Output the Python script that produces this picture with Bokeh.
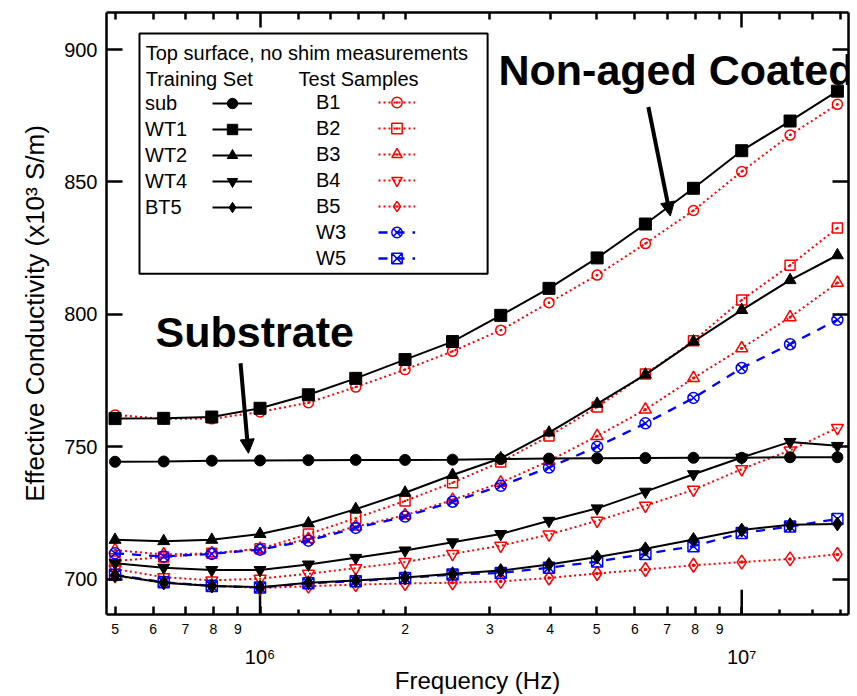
from bokeh.plotting import figure
from bokeh.models import (LogAxis, LinearAxis, FixedTicker, CustomJSTickFormatter, Legend,
                          LegendItem, Label, Arrow, NormalHead, BoxAnnotation, Range1d, Title)
from bokeh.embed import file_html
from bokeh.resources import INLINE

# ---------------- data ----------------
freq_hz = [5.0e5, 6.31e5, 7.94e5, 1.0e6, 1.26e6, 1.58e6, 2.0e6, 2.51e6,
           3.16e6, 3.98e6, 5.01e6, 6.31e6, 7.94e6, 1.0e7, 1.26e7, 1.58e7]

sub = [744.3, 744.4, 744.7, 744.8, 744.9, 745.0, 745.0, 745.1,
       745.3, 745.5, 745.6, 745.7, 745.8, 745.8, 746.0, 746.0]
wt1 = [760.6, 760.7, 761.2, 764.5, 769.6, 775.8, 782.9, 789.7,
       799.6, 809.8, 821.3, 834.1, 847.6, 861.8, 873.0, 884.3]
wt2 = [714.8, 714.3, 714.8, 717.0, 721.0, 726.4, 732.6, 739.3,
       745.6, 755.3, 766.2, 777.2, 789.7, 801.6, 812.9, 822.3]
wt4 = [706.0, 704.3, 703.4, 703.4, 705.5, 708.0, 710.8, 713.9,
       717.0, 722.0, 726.7, 733.0, 739.6, 745.9, 751.8, 750.3]
bt5 = [701.4, 698.6, 697.4, 696.9, 698.6, 699.4, 700.6, 702.0,
       703.2, 705.5, 708.3, 711.4, 714.9, 718.5, 720.5, 720.8]
b1 = [762.0, 760.5, 760.5, 763.1, 766.6, 772.5, 779.1, 786.0,
      794.0, 804.4, 814.8, 826.7, 839.2, 853.9, 867.7, 879.3]
b2 = [706.8, 708.3, 709.7, 711.4, 717.0, 723.0, 729.5, 736.4,
      744.2, 754.0, 765.0, 777.4, 790.0, 805.4, 818.5, 832.6]
b3 = [710.9, 709.3, 709.7, 711.4, 715.1, 719.8, 724.1, 729.9,
      736.4, 744.6, 754.0, 764.0, 775.9, 787.2, 798.9, 811.9]
b4 = [703.8, 700.7, 699.5, 700.1, 702.0, 704.1, 706.4, 709.5,
      712.6, 716.8, 722.0, 727.7, 733.7, 741.5, 748.6, 757.1]
b5 = [701.2, 698.7, 697.5, 696.6, 697.3, 697.9, 698.3, 698.6,
      699.1, 700.4, 702.1, 703.6, 705.2, 706.4, 707.6, 709.3]
w3 = [709.7, 708.5, 709.5, 711.1, 714.5, 719.3, 723.6, 729.2,
      735.2, 742.1, 750.0, 758.8, 768.4, 779.7, 788.7, 797.9]
w5 = [701.6, 698.8, 697.4, 696.8, 698.4, 699.2, 700.4, 701.7,
      702.3, 704.3, 706.6, 709.5, 712.4, 717.4, 719.8, 722.7]

training_names = ["sub", "WT1", "WT2", "WT4", "BT5"]
test_names = ["B1", "B2", "B3", "B4", "B5", "W3", "W5"]

x_ticks_labeled = [5e5, 6e5, 7e5, 8e5, 9e5, 2e6, 3e6, 4e6, 5e6, 6e6, 7e6, 8e6, 9e6]
x_ticks_decade = [1e6, 1e7]
x_ticks_minor = [1.2e6, 1.4e6, 1.6e6, 1.8e6, 1.2e7, 1.4e7, 1.6e7]
y_ticks = [700, 750, 800, 850, 900]

X_RANGE = (4.80e5, 1.666e7)
Y_RANGE = (686.6, 914.0)

FONT = "Liberation Sans"

# ---------------- figure ----------------
p = figure(width=857, height=696, x_axis_type="log",
           x_range=Range1d(*X_RANGE), y_range=Range1d(*Y_RANGE),
           output_backend="svg", toolbar_location=None,
           min_border_left=106, min_border_right=9,
           min_border_top=12, min_border_bottom=78)
p.grid.visible = False
p.outline_line_color = None
p.background_fill_color = "white"
p.border_fill_color = "white"

AX_W = 2.5


def style_axis(ax):
    ax.axis_line_width = AX_W
    ax.axis_line_color = "black"
    ax.major_tick_line_width = AX_W
    ax.minor_tick_line_width = AX_W
    ax.major_tick_line_color = "black"
    ax.minor_tick_line_color = "black"
    ax.major_tick_out = 0
    ax.minor_tick_out = 0
    ax.major_label_text_font = FONT
    ax.axis_label_text_font = FONT
    ax.axis_label_text_font_style = "normal"
    ax.axis_label_text_color = "black"
    ax.major_label_text_color = "black"


# bottom axis: mantissa labels
xa = p.xaxis[0]
style_axis(xa)
xa.ticker = FixedTicker(ticks=x_ticks_labeled + x_ticks_decade, minor_ticks=x_ticks_minor)
xa.formatter = CustomJSTickFormatter(code="""
const e = Math.floor(Math.log10(tick) + 1e-9);
const m = Math.round(tick / Math.pow(10, e));
return m === 1 ? "" : String(m);
""")
xa.major_tick_in = 8
xa.minor_tick_in = 5
xa.major_label_text_font_size = "14px"
xa.major_label_standoff = 9

# second bottom row: decade labels + axis title
xb = LogAxis(ticker=FixedTicker(ticks=x_ticks_decade, minor_ticks=[]))
style_axis(xb)
xb.axis_line_color = None
xb.major_tick_line_color = None
xb.minor_tick_line_color = None
xb.major_tick_in = 0
xb.formatter = CustomJSTickFormatter(code="""
const e = Math.round(Math.log10(tick));
const sup = "\u2070\u00b9\u00b2\u00b3\u2074\u2075\u2076\u2077\u2078\u2079";
return "10" + String(e).split("").map(d => sup[+d]).join("");
""")
xb.major_label_text_font_size = "20px"
xb.major_label_standoff = 9
xb.axis_label = "Frequency (Hz)"
xb.axis_label_text_font_size = "24px"
xb.axis_label_standoff = -4
p.add_layout(xb, "below")

# top axis: ticks only
xt = LogAxis(ticker=FixedTicker(ticks=x_ticks_decade,
                                minor_ticks=x_ticks_labeled + x_ticks_minor),
             formatter=CustomJSTickFormatter(code='return "";'))
style_axis(xt)
xt.major_tick_in = 15
xt.minor_tick_in = 7
xt.major_label_text_font_size = "2px"
xt.major_label_standoff = 0
p.add_layout(xt, "above")

# left axis
ya = p.yaxis[0]
style_axis(ya)
ya.ticker = FixedTicker(ticks=y_ticks, minor_ticks=[])
ya.major_tick_in = 16
ya.major_label_text_font_size = "20px"
ya.major_label_standoff = 9

# y title: a side title so that it can sit a little above the centre, as in the reference
ytitle = Title(text="Effective Conductivity (x10\u00b3 S/m)", align="center", offset=24,
               text_font=FONT, text_font_size="26px", text_font_style="normal",
               text_color="black", standoff=24)
p.add_layout(ytitle, "left")

# right axis: ticks only
yr = LinearAxis(ticker=FixedTicker(ticks=y_ticks, minor_ticks=[]),
                formatter=CustomJSTickFormatter(code='return "";'))
style_axis(yr)
yr.major_tick_in = 16
yr.major_label_text_font_size = "2px"
yr.major_label_standoff = 0
p.add_layout(yr, "right")

# longer decade ticks on the bottom axis
long_tick = (Y_RANGE[1] - Y_RANGE[0]) * 25.0 / 606.0
p.segment(x0=x_ticks_decade, y0=[Y_RANGE[0]] * len(x_ticks_decade),
          x1=x_ticks_decade, y1=[Y_RANGE[0] + long_tick] * len(x_ticks_decade),
          line_color="black", line_width=AX_W)

# ---------------- series ----------------
RED = "#ff0000"
BLUE = "#0000ff"
styles = {
    "sub": dict(color="black", dash="solid", lw=2, marker="circle", size=11, fill="black"),
    "WT1": dict(color="black", dash="solid", lw=2, marker="square", size=12, fill="black"),
    "WT2": dict(color="black", dash="solid", lw=2, marker="triangle", size=12, fill="black"),
    "WT4": dict(color="black", dash="solid", lw=2, marker="inverted_triangle", size=12, fill="black"),
    "BT5": dict(color="black", dash="solid", lw=2, marker="diamond", size=14, fill="black"),
    "B1": dict(color=RED, dash="2 3", lw=2, marker="circle_dot", size=10, fill=None),
    "B2": dict(color=RED, dash="2 3", lw=2, marker="square_dot", size=10, fill=None),
    "B3": dict(color=RED, dash="2 3", lw=2, marker="triangle_dot", size=12, fill=None),
    "B4": dict(color=RED, dash="2 3", lw=2, marker="inverted_triangle", size=12, fill=None),
    "B5": dict(color=RED, dash="2 3", lw=2, marker="diamond_dot", size=14, fill=None),
    "W3": dict(color=BLUE, dash="9 8", lw=2.3, marker="circle_x", size=11, fill=None),
    "W5": dict(color=BLUE, dash="9 8", lw=2.3, marker="square_x", size=11, fill=None),
}
values = {"sub": sub, "WT1": wt1, "WT2": wt2, "WT4": wt4, "BT5": bt5,
          "B1": b1, "B2": b2, "B3": b3, "B4": b4, "B5": b5, "W3": w3, "W5": w5}

draw_order = ["B5", "B4", "B3", "B2", "B1", "W3", "W5", "sub", "WT1", "WT2", "WT4", "BT5"]
rends = {}
for name in draw_order:
    st = styles[name]
    vals = values[name]
    rl = p.line(freq_hz, vals, line_color=st["color"], line_width=st["lw"],
                line_dash=st["dash"])
    rs = p.scatter(freq_hz, vals, marker=st["marker"], size=st["size"],
                   line_color=st["color"], fill_color=st["fill"],
                   line_width=1.5 if st["fill"] is None else 1)
    rends[name] = [rl, rs]

# ---------------- legend box ----------------
p.add_layout(BoxAnnotation(left=5.62e5, right=2.968e6, top=906.1, bottom=815.3,
                           fill_color="white", fill_alpha=1.0,
                           line_color="black", line_width=2, line_alpha=1.0))
for txt, xx, yy in [("Top surface, no shim measurements", 5.79e5, 902.8),
                    ("Training Set", 5.79e5, 893.0),
                    ("Test Samples", 1.202e6, 893.0)]:
    p.add_layout(Label(x=xx, y=yy, text=txt, text_font=FONT, text_font_size="20px",
                       text_baseline="top", text_color="black"))

common = dict(orientation="vertical", glyph_height=26, label_height=26, spacing=0,
              padding=0, margin=0, border_line_color=None, background_fill_alpha=0,
              label_text_font=FONT, label_text_font_size="20px",
              label_text_color="black", label_standoff=0)


def add_column(names, label_x, glyph_x, glyph_w, vy):
    # labels on the left (no glyph drawn), glyph samples on the right
    p.add_layout(Legend(items=[LegendItem(label=n, renderers=rends[n]) for n in names],
                        location=(label_x, vy), glyph_width=0, **common), "center")
    p.add_layout(Legend(items=[LegendItem(label=" ", renderers=rends[n]) for n in names],
                        location=(glyph_x, vy), glyph_width=glyph_w, **common), "center")


add_column(training_names, 39, 106, 40, 394)
add_column(test_names, 210, 272, 37, 343)

# ---------------- annotations ----------------
p.add_layout(Label(x=3.127e6, y=901.2, text="Non-aged Coated", text_font=FONT,
                   text_font_style="bold", text_font_size="43px",
                   text_baseline="top", text_color="black"))
p.add_layout(Label(x=6.07e5, y=802.5, text="Substrate", text_font=FONT,
                   text_font_style="bold", text_font_size="43px",
                   text_baseline="top", text_color="black"))
p.add_layout(Arrow(end=NormalHead(size=14, fill_color="black", line_color="black"),
                   x_start=9.11e5, y_start=781.5, x_end=9.46e5, y_end=747.5,
                   line_width=4, line_color="black"))
p.add_layout(Arrow(end=NormalHead(size=14, fill_color="black", line_color="black"),
                   x_start=6.40e6, y_start=878.3, x_end=7.11e6, y_end=837.1,
                   line_width=4, line_color="black"))

with open("out.html", "w", encoding="utf-8") as f:
    f.write(file_html(p, INLINE))
